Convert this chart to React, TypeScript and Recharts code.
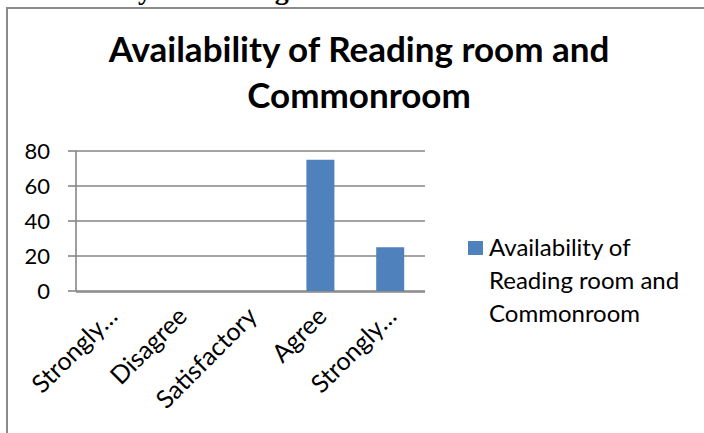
import { BarChart, Bar, XAxis, YAxis, CartesianGrid, Legend } from 'recharts';

// values
const categories = ['Strongly Disagree', 'Disagree', 'Satisfactory', 'Agree', 'Strongly Agree'];
const tickLabels = ['Strongly…', 'Disagree', 'Satisfactory', 'Agree', 'Strongly…'];
const values = [0, 0, 0, 75, 25];
const yTicks = [0, 20, 40, 60, 80];
const edgeTicks = [0, 1, 2, 3, 4, 5];
const seriesName = 'Availability of Reading room and Commonroom';
const titleLines = ['Availability of Reading room and', 'Commonroom'];
const legendLines = ['Availability of', 'Reading room and', 'Commonroom'];
const pageHeading = 'Availability of Reading room and Commonroom Facilities';

const data = categories.map((c, i) => ({ category: c, label: tickLabels[i], value: values[i] }));

const FONT = 'Lato, "Open Sans", sans-serif';
const AXIS = '#868686';
const BLUE = '#4F81BD';

function CatTick({ x, y, payload }: any) {
  const label = tickLabels[payload.index] ?? payload.value;
  const ax = x + 8;
  const ay = y + 27;
  return (
    <text
      x={ax} y={ay} textAnchor="end" transform={`rotate(-45, ${ax}, ${ay})`}
      fontFamily={FONT} fontSize={25} fill="#000"
    >
      {label}
    </text>
  );
}

function LegendBox({ payload }: any) {
  const color = payload?.[0]?.color ?? BLUE;
  return (
    <div style={{ position: 'relative', fontFamily: FONT, fontSize: 24, lineHeight: '33px', color: '#000' }}>
      <span style={{ position: 'absolute', left: 0, top: 11, width: 15, height: 14, background: color }} />
      <div style={{ marginLeft: 21, whiteSpace: 'nowrap' }}>
        {legendLines.map((l) => <div key={l}>{l}</div>)}
      </div>
    </div>
  );
}

export default function App() {
  return (
    <div style={{ position: 'absolute', left: 0, top: 0, width: 704, height: 433, overflow: 'hidden', background: '#fff' }}>
      <div style={{ position: 'absolute', left: 6, top: 7, width: 800, height: 500, border: '2px solid #8a8a8a' }} />
      <svg width={704} height={433} style={{ position: 'absolute', left: 0, top: 0 }}>
        <text x={14} y={-1} fontFamily='"Liberation Serif", serif' fontWeight="bold" fontSize={28} fill="#000">
          {pageHeading}
        </text>
        <text x={359} y={62} textAnchor="middle" fontFamily={FONT} fontWeight="bold" fontSize={35} fill="#000">
          {titleLines[0]}
        </text>
        <text x={359} y={108} textAnchor="middle" fontFamily={FONT} fontWeight="bold" fontSize={35} fill="#000">
          {titleLines[1]}
        </text>
      </svg>
      <div style={{ position: 'absolute', left: 0, top: 0 }}>
        <BarChart width={704} height={433} data={data} margin={{ top: 151, right: 279, bottom: 140, left: 16 }}>
          <CartesianGrid xAxisId="cats" horizontal vertical={false} stroke={AXIS} strokeWidth={1.6} />
          <XAxis
            xAxisId="edges" type="number" domain={[0, 5]} ticks={edgeTicks} allowDataOverflow
            tick={false} tickSize={6} height={1}
            axisLine={{ stroke: AXIS, strokeWidth: 1.6 }} tickLine={{ stroke: AXIS, strokeWidth: 1.6 }}
          />
          <XAxis
            xAxisId="cats" dataKey="category" interval={0} height={1}
            axisLine={false} tickLine={false} tickSize={0} tickMargin={0}
            tick={<CatTick />}
          />
          <YAxis
            domain={[0, 80]} ticks={yTicks} width={60} tickSize={8} tickMargin={18}
            axisLine={{ stroke: AXIS, strokeWidth: 1.6 }} tickLine={{ stroke: AXIS, strokeWidth: 1.6 }}
            tick={{ fontFamily: FONT, fontSize: 22, fill: '#000' }}
          />
          <Bar xAxisId="cats" dataKey="value" name={seriesName} fill={BLUE} barSize={28} isAnimationActive={false} />
          <Legend
            layout="vertical" align="center" verticalAlign="middle"
            wrapperStyle={{ position: 'absolute', left: 468, top: 230, width: 230 }}
            content={<LegendBox />}
          />
        </BarChart>
      </div>
    </div>
  );
}
